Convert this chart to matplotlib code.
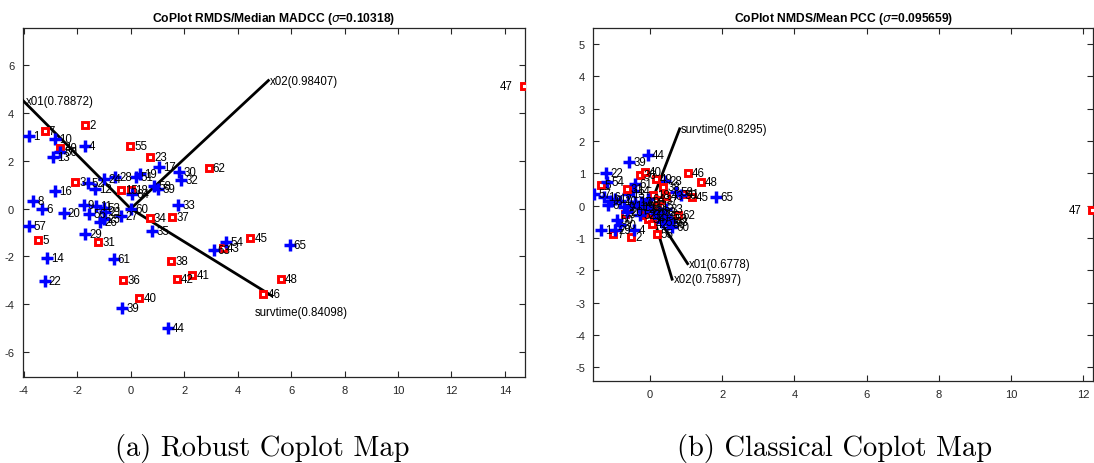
import numpy as np
import matplotlib
matplotlib.use('Agg')
import matplotlib.pyplot as plt

plt.rcParams.update({
    'font.family': 'Liberation Sans',
    'axes.unicode_minus': False,
    'mathtext.fontset': 'dejavusans',
})

# observation ids and which ones belong to the "red" group
OBS = list(range(1, 66))
RED_OBS = [2, 3, 5, 7, 15, 18, 23, 31, 34, 36, 37, 38, 40, 41, 42, 43,
           45, 46, 47, 48, 49, 55, 62]

# (a) robust coplot coordinates, obs 1..65
ROBUST_X = [-3.81, -1.72, -2.07, -1.72, -3.46, -3.31, -3.22, -3.65, -1.76, -2.84,
            -1.29, -1.32, -2.90, -3.15, -0.36, -2.84, 1.07, 0.02, 0.36, -2.51,
            -0.95, -3.22, 0.73, -0.99, -1.01, -1.14, -0.35, -0.58, -1.72, 1.82,
            -1.22, 1.89, 1.78, 0.71, 0.80, -0.28, 1.55, 1.52, -0.33, 0.32,
            2.31, 1.73, 3.45, 1.38, 4.47, 4.96, 14.70, 5.61, -2.63, -2.63,
            0.21, -1.61, -1.01, 3.56, -0.01, -1.55, -3.81, 0.88, 1.03, 0.02,
            -0.64, 2.91, 3.10, 0.06, 5.94]
ROBUST_Y = [3.06, 3.51, 1.10, 2.61, -1.32, -0.02, 3.24, 0.31, 0.15, 2.92,
            0.12, 0.82, 2.18, -2.07, 0.80, 0.75, 1.76, 0.80, 1.45, -0.16,
            -0.14, -3.02, 2.15, 1.24, -0.44, -0.57, -0.29, 1.34, -1.04, 1.52,
            -1.39, 1.21, 0.17, -0.41, -0.92, -2.99, -0.33, -2.21, -4.18, -3.76,
            -2.78, -2.95, -1.66, -4.98, -1.23, -3.58, 5.14, -2.95, 2.53, 2.39,
            1.31, 1.07, 0.05, -1.38, 2.64, -0.21, -0.72, 0.95, 0.82, 0.00,
            -2.11, 1.70, -1.74, 0.61, -1.53]

# (b) classical coplot coordinates, obs 1..65
CLASSIC_X = [-1.35, -0.52, -0.70, -0.44, -1.37, -1.16, -1.02, -1.07, -0.72, -0.84,
             -0.52, -0.96, -0.61, -0.48, 0.18, -1.27, -0.42, 0.08, -0.33, -0.65,
             -0.24, -1.21, -0.15, -0.15, -0.06, 0.04, 0.13, 0.41, -0.98, -0.84,
             -0.65, 0.25, 0.45, -0.06, 0.38, -0.29, 0.30, 0.36, -0.58, -0.15,
             0.91, 0.05, 0.45, -0.07, 1.15, 1.04, 12.25, 1.40, 0.16, -0.93,
             0.32, -0.29, 0.55, -1.18, 0.18, 0.50, -1.55, 0.73, 0.85, 0.62,
             -0.42, 0.78, 0.58, -0.05, 1.84]
CLASSIC_Y = [-0.76, -0.96, -0.25, -0.74, 0.63, 0.03, -0.86, 0.16, -0.04, 0.16,
             0.00, 0.22, 0.37, 0.45, 0.00, 0.27, 0.12, 0.32, -0.04, -0.18,
             0.12, 1.02, -0.30, -0.09, 0.00, -0.15, -0.30, 0.78, -0.76, -0.60,
             0.53, -0.20, -0.09, -0.40, -0.32, 0.94, 0.19, 0.58, 1.37, 1.06,
             0.37, -0.55, 0.30, 1.56, 0.27, 1.02, -0.14, 0.74, 0.83, -0.45,
             -0.50, -0.30, -0.40, 0.75, -0.86, -0.56, 0.37, 0.44, 0.33, -0.66,
             0.68, -0.28, -0.50, 0.20, 0.27]

# variable arrows: name, end x, end y
ROBUST_VARS = ['x01(0.78872)', 'x02(0.98407)', 'survtime(0.84098)']
ROBUST_VX = [-4.05, 5.15, 5.28]
ROBUST_VY = [4.55, 5.37, -3.65]
ROBUST_LABEL_POS = [(-3.92, 4.52), (5.2, 5.37), (4.65, -4.32)]

CLASSIC_VARS = ['x01(0.6778)', 'x02(0.75897)', 'survtime(0.8295)']
CLASSIC_VX = [1.04, 0.61, 0.82]
CLASSIC_VY = [-1.79, -2.27, 2.38]

W, H = 1094, 464
fig = plt.figure(figsize=(W / 100, H / 100), dpi=100)


def px_axes(l, r, t, b):
    return fig.add_axes([l / W, 1 - b / H, (r - l) / W, (b - t) / H])


def coplot(ax, xs, ys, names, vx, vy, label_pos, title, xlim, ylim, xticks, yticks):
    gray = '#262626'
    for nm, ex, ey, lp in zip(names, vx, vy, label_pos):
        ax.plot([0, ex], [0, ey], color='black', lw=2.0, zorder=4)
        ax.text(lp[0], lp[1], nm, fontsize=8.3, va='center', ha='left',
                color='black', zorder=6)

    for obs, x, y in zip(OBS, xs, ys):
        if obs in RED_OBS:
            ax.plot(x, y, 's', ms=4.2, mfc='white', mec='red', mew=2.1, zorder=5)
        else:
            ax.plot(x, y, '+', ms=8.5, color='blue', mew=2.5, zorder=5)
        if x > xlim[1] - 1:
            ax.annotate(str(obs), (x, y), xytext=(-8, 0), textcoords='offset points',
                        ha='right', va='center', fontsize=8.3, zorder=6)
        else:
            ax.annotate(str(obs), (x, y), xytext=(3, 0), textcoords='offset points',
                        ha='left', va='center', fontsize=8.3, zorder=6)

    ax.set_xlim(*xlim)
    ax.set_ylim(*ylim)
    ax.set_xticks(xticks)
    ax.set_yticks(yticks)
    ax.tick_params(direction='in', length=4, width=0.8, top=True, right=True,
                   labelsize=8, colors=gray, pad=6)
    for s in ax.spines.values():
        s.set_color(gray)
        s.set_linewidth(0.9)
    ax.set_title(title, fontsize=8.7, fontweight='bold', pad=5)


ax1 = px_axes(22.5, 525, 29, 378)
coplot(ax1, ROBUST_X, ROBUST_Y, ROBUST_VARS, ROBUST_VX, ROBUST_VY, ROBUST_LABEL_POS,
       r'CoPlot RMDS/Median MADCC ($\sigma$=0.10318)',
       (-4.05, 14.75), (-7.05, 7.57), np.arange(-4, 15, 2), np.arange(-6, 7, 2))

ax2 = px_axes(593.4, 1093, 29, 382)
classic_lp = [(ex + 0.04, ey) for ex, ey in zip(CLASSIC_VX, CLASSIC_VY)]
coplot(ax2, CLASSIC_X, CLASSIC_Y, CLASSIC_VARS, CLASSIC_VX, CLASSIC_VY, classic_lp,
       r'CoPlot NMDS/Mean PCC ($\sigma$=0.095659)',
       (-1.57, 12.27), (-5.42, 5.5), np.arange(0, 13, 2), np.arange(-5, 6, 1))

fig.text(262 / W, 1 - 449 / H, '(a) Robust Coplot Map', family='cmr10',
         fontsize=20.5, ha='center', va='center')
fig.text(835 / W, 1 - 449 / H, '(b) Classical Coplot Map', family='cmr10',
         fontsize=20.5, ha='center', va='center')

fig.savefig('out.png', dpi=100)
